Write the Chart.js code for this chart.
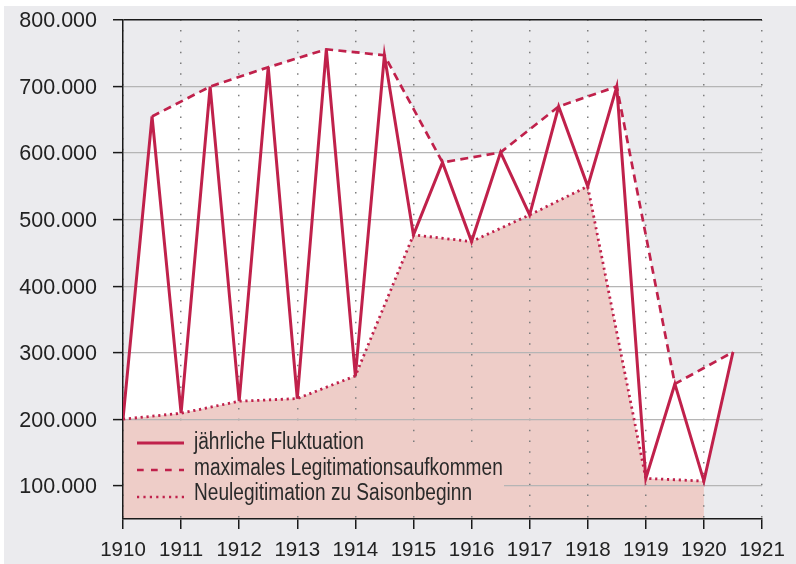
<!DOCTYPE html>
<html>
<head>
<meta charset="utf-8">
<script src="https://cdn.jsdelivr.net/npm/chart.js@4.4.1/dist/chart.umd.min.js"></script>
<style>
html,body{margin:0;padding:0;background:#fff;}
#wrap{position:relative;width:796px;height:564px;overflow:hidden;}
#bg{position:absolute;left:4px;top:6px;width:792px;height:558px;background:#ebebee;}
#c{position:absolute;left:0;top:0;}
.lbox{position:absolute;background:#eecdc8;}
.ltxt{position:absolute;left:194px;height:26px;line-height:26px;white-space:nowrap;
  font-family:"Liberation Sans",sans-serif;font-size:23px;color:#2a2a2a;
  transform:scaleX(0.83);transform-origin:0 0;}
.lsvg{position:absolute;left:137px;width:47px;height:8px;}
</style>
</head>
<body>
<div id="wrap">
  <div id="bg"></div>
  <canvas id="c" width="796" height="564"></canvas>
  <div id="legend"></div>
</div>
<script>
// ---- data ----
const peakYears   = [1910.5, 1911.5, 1912.5, 1913.5, 1914.5, 1915.5, 1916.5, 1917.5, 1918.5, 1919.5, 1920.5];
const peakValues  = [655000, 700000, 729000, 756000, 747000, 586000, 601000, 670000, 700000, 253000, 301000];
const troughYears  = [1910, 1911, 1912, 1913, 1914, 1915, 1916, 1917, 1918, 1919, 1920];
const troughValues = [200000, 209000, 227000, 231000, 265000, 477000, 467000, 507000, 550000, 111000, 107000];
const xTickYears = [1910, 1911, 1912, 1913, 1914, 1915, 1916, 1917, 1918, 1919, 1920, 1921];
const yTickValues = [100000, 200000, 300000, 400000, 500000, 600000, 700000, 800000];
const seriesLabels = ['jährliche Fluktuation', 'maximales Legitimationsaufkommen', 'Neulegitimation zu Saisonbeginn'];

const RED = '#c0214b';
const PINK = '#eecdc8';

// build point lists
const peaks = peakYears.map((x, i) => ({x, y: peakValues[i]}));
const troughs = troughYears.map((x, i) => ({x, y: troughValues[i]}));
const zigzag = [];
for (let i = 0; i < troughs.length; i++) {
  zigzag.push(troughs[i]);
  if (peaks[i]) zigzag.push(peaks[i]);
}
// helper boundaries for the white band between the envelopes
const upperEnv = [troughs[0], ...peaks];
const lowerEnv = [...troughs, peaks[peaks.length - 1]];

const fmt = v => String(v).replace(/\B(?=(\d{3})+(?!\d))/g, '.');

new Chart(document.getElementById('c'), {
  type: 'line',
  data: {
    datasets: [
      { label: seriesLabels[0], data: zigzag, borderColor: RED, borderWidth: 3, pointRadius: 0, fill: false, tension: 0, borderJoinStyle: 'miter' },
      { label: seriesLabels[1], data: peaks, borderColor: RED, borderWidth: 2.7, borderDash: [8, 5.3], pointRadius: 0, fill: false, tension: 0 },
      { label: seriesLabels[2], data: troughs, borderColor: RED, borderWidth: 2.8, borderDash: [2.2, 3.7], pointRadius: 0, fill: 'start', backgroundColor: PINK, tension: 0 },
      { label: 'upper', data: upperEnv, borderWidth: 0, borderColor: 'rgba(0,0,0,0)', pointRadius: 0, fill: {target: 4}, backgroundColor: '#ffffff', tension: 0 },
      { label: 'lower', data: lowerEnv, borderWidth: 0, borderColor: 'rgba(0,0,0,0)', pointRadius: 0, fill: false, tension: 0 }
    ]
  },
  options: {
    responsive: false,
    animation: false,
    events: [],
    layout: { padding: { top: 20, right: 34, left: 0, bottom: 0 } },
    plugins: {
      legend: { display: false },
      tooltip: { enabled: false },
      filler: { drawTime: 'beforeDraw' }
    },
    scales: {
      x: {
        type: 'linear', min: 1910, max: 1921,
        afterBuildTicks: s => { s.ticks = xTickYears.map(v => ({value: v})); },
        afterFit: s => { s.height = 45; },
        grid: { color: '#7d7d7d', lineWidth: 1.5, tickColor: '#1a1a1a', tickLength: 10, tickWidth: 1.5 },
        border: { color: '#1a1a1a', width: 1.5, dash: [1.5, 9.3], dashOffset: 0.75 },
        ticks: { font: { family: '"Liberation Sans", sans-serif', size: 20.5 }, color: '#222', padding: 9, maxRotation: 0, autoSkip: false, callback: v => String(v) }
      },
      y: {
        type: 'linear', min: 50000, max: 800000,
        afterBuildTicks: s => { s.ticks = yTickValues.map(v => ({value: v})); },
        afterFit: s => { s.width = 123; s.paddingTop = 0; s.paddingBottom = 0; },
        grid: {
          color: c => (c.tick && c.tick.value === 800000) ? '#1a1a1a' : '#b5b5b5',
          lineWidth: c => (c.tick && c.tick.value === 800000) ? 1.5 : 1.2,
          tickColor: '#1a1a1a', tickLength: 10, tickWidth: 1.5
        },
        border: { color: '#1a1a1a', width: 1.5 },
        ticks: { font: { family: '"Liberation Sans", sans-serif', size: 21.5 }, color: '#222', padding: 16, labelOffset: 1.5, callback: v => fmt(v) }
      }
    }
  }
});

// ---- HTML legend ----
const lg = document.getElementById('legend');
const boxes = [
  {left: 124, top: 424, width: 250, height: 23},
  {left: 124, top: 447, width: 380, height: 64}
];
boxes.forEach(b => {
  const d = document.createElement('div');
  d.className = 'lbox';
  Object.assign(d.style, {left: b.left + 'px', top: b.top + 'px', width: b.width + 'px', height: b.height + 'px'});
  lg.appendChild(d);
});
const rows = [
  {top: 428, lineY: 443.3, width: 3, dash: ''},
  {top: 453.5, lineY: 470, width: 2.7, dash: '6.7 7.3'},
  {top: 479, lineY: 497.3, width: 2.6, dash: '2.2 4.2'}
];
rows.forEach((r, i) => {
  const svgNS = 'http://www.w3.org/2000/svg';
  const svg = document.createElementNS(svgNS, 'svg');
  svg.setAttribute('class', 'lsvg');
  svg.setAttribute('width', '47'); svg.setAttribute('height', '8');
  svg.style.top = (r.lineY - 4) + 'px';
  const ln = document.createElementNS(svgNS, 'line');
  ln.setAttribute('x1', '0'); ln.setAttribute('x2', '47');
  ln.setAttribute('y1', '4'); ln.setAttribute('y2', '4');
  ln.setAttribute('stroke', RED); ln.setAttribute('stroke-width', r.width);
  if (r.dash) ln.setAttribute('stroke-dasharray', r.dash);
  svg.appendChild(ln);
  lg.appendChild(svg);
  const t = document.createElement('div');
  t.className = 'ltxt';
  t.style.top = r.top + 'px';
  t.textContent = seriesLabels[i];
  lg.appendChild(t);
});
</script>
</body>
</html>
